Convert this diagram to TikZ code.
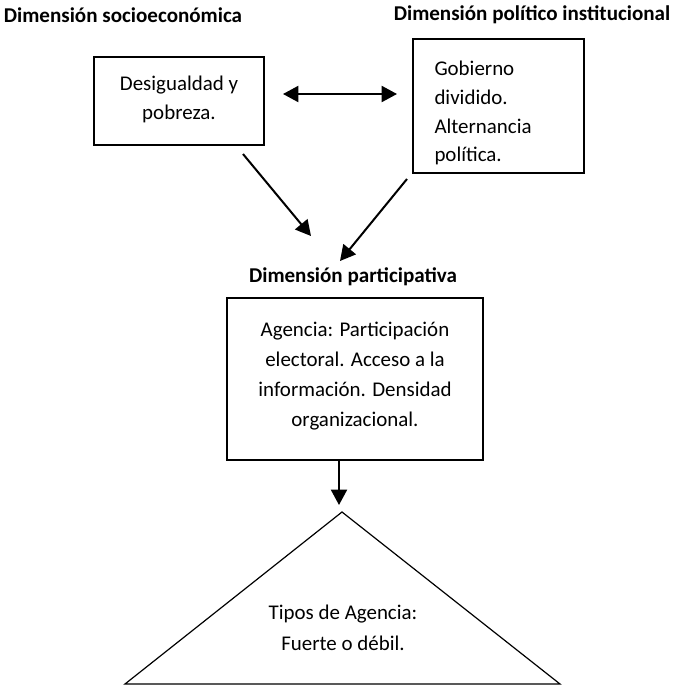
\documentclass[tikz,border=0pt]{standalone}
\usepackage{fontspec}
\setmainfont{Carlito}
\usetikzlibrary{arrows.meta}
\begin{document}
\begin{tikzpicture}[x=0.75pt,y=-0.75pt,
  every node/.style={font=\fontsize{15.7}{22.4}\selectfont},
  title/.style={font=\bfseries\fontsize{15.8}{20}\selectfont, inner sep=0pt},
  boxnode/.style={draw, line width=1.1pt, inner sep=0pt},
  conn/.style={line width=1.5pt, -{Triangle[length=11.5pt,width=12pt]}},
  bconn/.style={line width=1.5pt, {Triangle[length=11.5pt,width=12pt]}-{Triangle[length=11.5pt,width=12pt]}},
  tri/.style={draw, line width=0.9pt, line join=miter}
]
\useasboundingbox (0,0) rectangle (674,687);

% titles
\node[title] (t1) at (123,15) {Dimensión socioeconómica};
\node[title] (t2) at (532,15) {Dimensión político institucional};
\node[title] (t3) at (353,277) {Dimensión participativa};

% boxes
\node[boxnode, minimum width=127.5pt, minimum height=66pt, align=center,
      font=\fontsize{15.7}{21.8}\selectfont] (b1) at (179,101)
  {Desigualdad y\\pobreza.\rule[-5pt]{0pt}{5pt}};
\node[boxnode, minimum width=128.25pt, minimum height=100.5pt, text width=96pt, align=left,
      font=\fontsize{15.7}{21.6}\selectfont] (b2) at (498.5,106)
  {\rule{0pt}{21.5pt}Gobierno\\ dividido.\\ Alternancia\\ política.};
\node[boxnode, minimum width=192pt, minimum height=121.5pt, align=center] (b3) at (355,379)
  {Agencia: Participación\\ electoral. Acceso a la\\ información. Densidad\\ organizacional.\rule[-7.5pt]{0pt}{7.5pt}};

% triangle
\coordinate (apex) at (342,512);
\coordinate (bl) at (125,684);
\coordinate (br) at (560,684);
\draw[tri] (apex) -- (br) -- (bl) -- cycle;
\node[align=center, font=\fontsize{15.7}{23}\selectfont] (tt) at (343,628) {Tipos de Agencia:\\ Fuerte o débil.};

% connector end points
\coordinate (dL) at (283,94);
\coordinate (dR) at (397,94);
\coordinate (aS) at (243,154);
\coordinate (aE) at (311,236);
\coordinate (bS) at (407,179);
\coordinate (bE) at (340,261);
\coordinate (cS) at (339,460);
\coordinate (cE) at (339,505);

\draw[bconn] (dL) -- (dR);
\draw[conn] (aS) -- (aE);
\draw[conn] (bS) -- (bE);
\draw[conn] (cS) -- (cE);
\end{tikzpicture}
\end{document}
